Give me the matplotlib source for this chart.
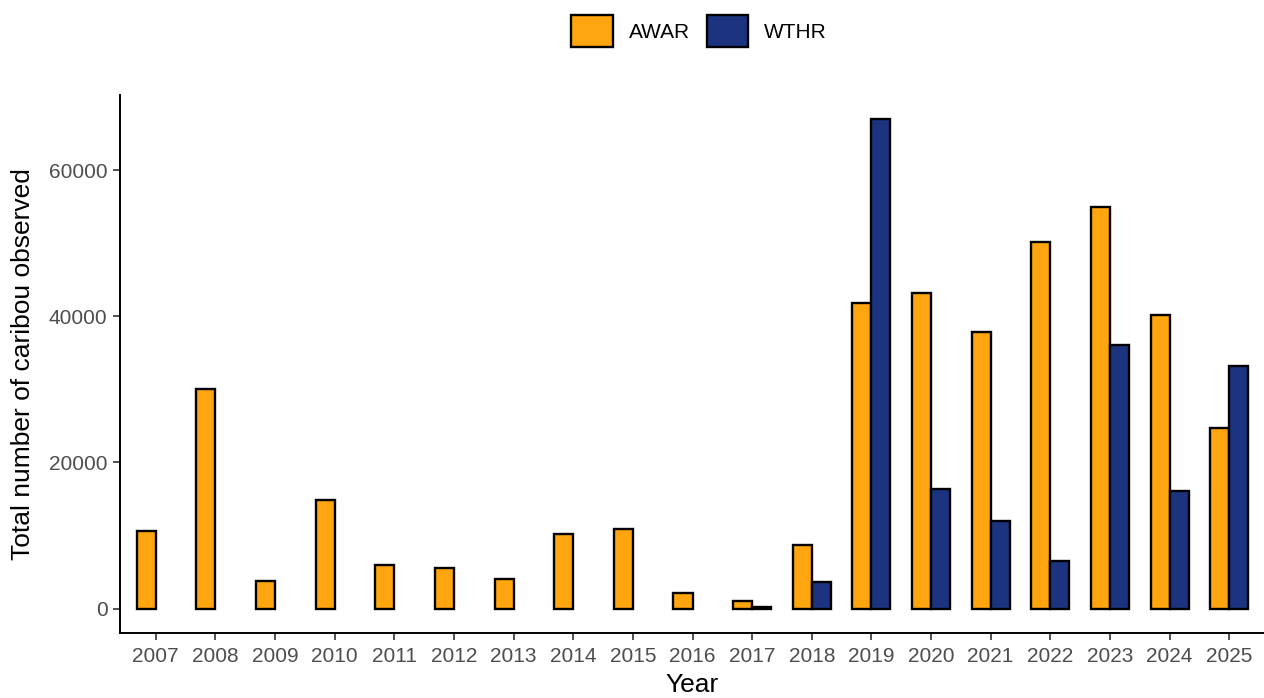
import numpy as np
import matplotlib
matplotlib.use('Agg')
import matplotlib.pyplot as plt

plt.rcParams['font.family'] = ['Liberation Sans', 'DejaVu Sans']

years = [2007, 2008, 2009, 2010, 2011, 2012, 2013, 2014, 2015, 2016,
         2017, 2018, 2019, 2020, 2021, 2022, 2023, 2024, 2025]
awar = [10600, 30050, 3790, 14900, 6020, 5560, 4020, 10250, 10880, 2150,
        980, 8700, 41870, 43230, 37880, 50150, 55010, 40240, 24650]
# WTHR counts start in 2017
wthr = [np.nan] * 10 + [150, 3570, 66950, 16420, 12040, 6450, 36010, 16100, 33150]

c_awar = '#FFA50F'
c_wthr = '#1C3480'

fig = plt.figure(figsize=(12.64, 6.98), dpi=100)
ax = fig.add_axes([120 / 1264, 65 / 698, 1145 / 1264, 538 / 698])

x = np.arange(len(years))
w = 0.32
wthr = np.array(wthr, dtype=float)
has_w = ~np.isnan(wthr)

ax.bar(x - w / 2, awar, w, color=c_awar, edgecolor='black', linewidth=1.7, label='AWAR')
ax.bar(x[has_w] + w / 2, wthr[has_w], w, color=c_wthr, edgecolor='black', linewidth=1.7,
       label='WTHR')

ymax = np.nanmax(np.concatenate([awar, wthr]))
ax.set_ylim(-0.05 * ymax, 1.05 * ymax)
ax.set_xlim(-0.6, len(years) - 1 + 0.6)
ax.set_xticks(x)
ax.set_xticklabels([str(y) for y in years])
ax.set_yticks([0, 20000, 40000, 60000])

for s in ['top', 'right']:
    ax.spines[s].set_visible(False)
for s in ['left', 'bottom']:
    ax.spines[s].set_linewidth(1.4)
    ax.spines[s].set_color('black')

ax.tick_params(axis='both', labelsize=15, labelcolor='#4D4D4D', color='#333333',
               length=5, width=1.2, pad=4)
ax.tick_params(axis='x', pad=5)
ax.set_xlabel('Year', fontsize=19, color='black', labelpad=5)
ax.set_ylabel('Total number of caribou observed', fontsize=19, color='black', labelpad=10)

fig.legend(loc='center', bbox_to_anchor=(699 / 1264, 1 - 31 / 698), ncol=2, frameon=False,
           fontsize=15, handlelength=2.0, handleheight=2.0, handletextpad=0.75,
           columnspacing=0.8, borderaxespad=0)

fig.savefig('out.png', dpi=100, facecolor='white')
